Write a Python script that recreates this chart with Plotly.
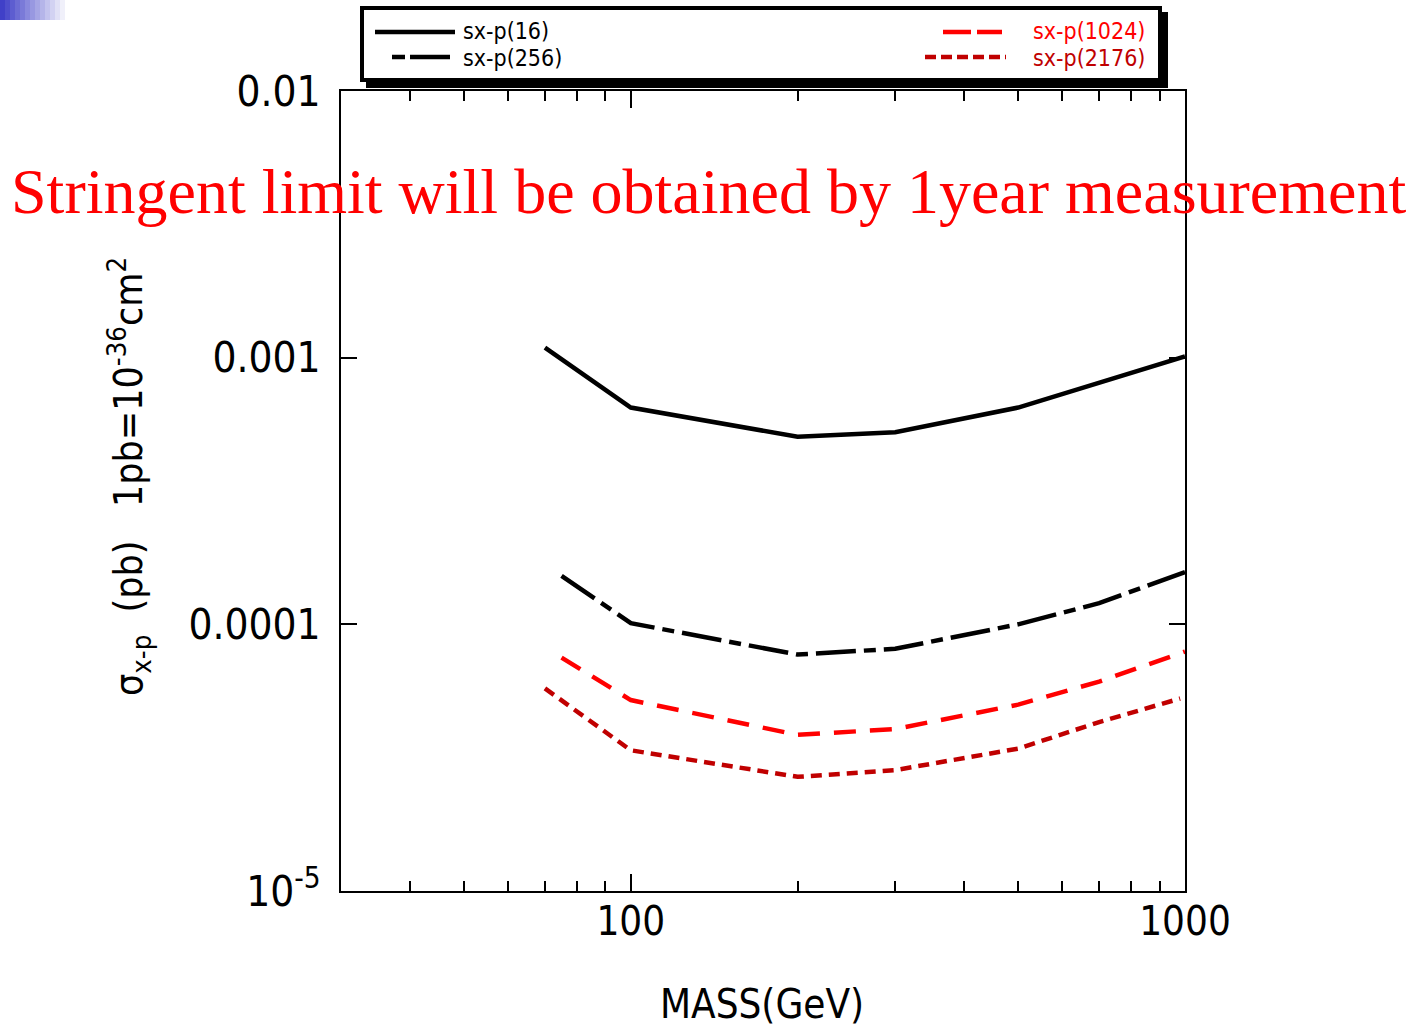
import math
import plotly.graph_objects as go

# ---------------- data ----------------
mass_16 = [70, 100, 200, 300, 500, 1000]
sig_16 = [1.09e-3, 6.5e-4, 5.05e-4, 5.25e-4, 6.5e-4, 1.01e-3]

mass_256 = [75, 100, 200, 300, 500, 700, 1000]
sig_256 = [1.52e-4, 1.01e-4, 7.7e-5, 8.1e-5, 1.0e-4, 1.2e-4, 1.57e-4]

mass_1024 = [75, 100, 200, 300, 500, 700, 1000]
sig_1024 = [7.5e-5, 5.2e-5, 3.85e-5, 4.05e-5, 5.0e-5, 6.1e-5, 7.9e-5]

mass_2176 = [70, 100, 200, 300, 500, 700, 980]
sig_2176 = [5.75e-5, 3.37e-5, 2.68e-5, 2.84e-5, 3.42e-5, 4.3e-5, 5.27e-5]

series_names = ["sx-p(16)", "sx-p(256)", "sx-p(1024)", "sx-p(2176)"]

x_major = [100, 1000]
x_major_text = ["100", "1000"]
x_minor = [30, 40, 50, 60, 70, 80, 90, 200, 300, 400, 500, 600, 700, 800, 900]
y_ticks = [1e-5, 1e-4, 1e-3, 1e-2]
y_tick_text = ["10<sup>-5</sup>", "0.0001", "0.001", "0.01"]

title_text = "Stringent limit will be obtained by 1year measurement"
x_title = "MASS(GeV)"
y_title = "σ<sub>x-p</sub>  (pb)   1pb=10<sup>-36</sup>cm<sup>2</sup>"

# ---------------- layout geometry ----------------
W, H = 1414, 1031
L, R, T, B = 341, 1185, 91, 891
PW, PH = R - L, B - T


def px(x):
    return (x - L) / PW


def py(y):
    return (B - y) / PH


NARROW = "DejaVu Sans Condensed, Liberation Sans Narrow, Arial Narrow, Liberation Sans, sans-serif"
BLACK = "#000000"
RED = "#ff0000"
DRED = "#c00000"

fig = go.Figure()
styles = [
    (mass_16, sig_16, BLACK, "solid"),
    (mass_256, sig_256, BLACK, "40px,8px,12px,8px"),
    (mass_1024, sig_1024, RED, "22px,14px"),
    (mass_2176, sig_2176, DRED, "11px,7px"),
]
for (xs, ys, c, d), name in zip(styles, series_names):
    fig.add_trace(go.Scatter(x=xs, y=ys, mode="lines", name=name,
                             line=dict(color=c, width=4.5, dash=d),
                             showlegend=False))

shapes = []
# top-left gradient decoration
n = 14
for i in range(n):
    t = i / (n - 1)
    r = int(64 + (255 - 64) * t)
    g = int(64 + (255 - 64) * t)
    b = int(200 + (255 - 200) * t)
    x0 = i * 5
    shapes.append(dict(type="rect", xref="paper", yref="paper",
                       x0=px(x0), x1=px(x0 + 5.5), y0=py(0), y1=py(20),
                       line=dict(width=0), fillcolor=f"rgb({r},{g},{b})", layer="above"))

# legend box with shadow
shapes.append(dict(type="rect", xref="paper", yref="paper",
                   x0=px(366), x1=px(1168), y0=py(12), y1=py(88),
                   line=dict(width=0), fillcolor=BLACK, layer="above"))
shapes.append(dict(type="rect", xref="paper", yref="paper",
                   x0=px(362), x1=px(1160), y0=py(8), y1=py(80),
                   line=dict(width=4, color=BLACK), fillcolor="white", layer="above"))

# legend samples
legend_samples = [
    (375, 455, 32, BLACK, "solid"),
    (392, 452, 57, BLACK, "13px,5px,40px,6px"),
    (943, 1002, 32, RED, "28px,6px"),
    (925, 1006, 57, DRED, "11px,5px"),
]
for x0, x1, yy, c, d in legend_samples:
    shapes.append(dict(type="line", xref="paper", yref="paper",
                       x0=px(x0), x1=px(x1), y0=py(yy), y1=py(yy),
                       line=dict(color=c, width=4.5, dash=d), layer="above"))

annotations = []
legend_texts = [
    (462, 31, "left", series_names[0], BLACK),
    (462, 58, "left", series_names[1], BLACK),
    (1146, 31, "right", series_names[2], RED),
    (1146, 58, "right", series_names[3], DRED),
]
for xx, yy, anc, txt, c in legend_texts:
    annotations.append(dict(x=px(xx), y=py(yy), xref="paper", yref="paper",
                            text=txt, showarrow=False, xanchor=anc, yanchor="middle",
                            borderpad=0,
                            font=dict(family=NARROW, size=23, color=c)))

# red overlay title
annotations.append(dict(x=px(708), y=py(192), xref="paper", yref="paper",
                        text=title_text, showarrow=False, xanchor="center", yanchor="middle",
                        font=dict(family="Liberation Serif, Times New Roman, serif", size=64, color=RED)))
# x title
annotations.append(dict(x=px(762), y=py(1004), xref="paper", yref="paper",
                        text=x_title, showarrow=False, xanchor="center", yanchor="middle",
                        borderpad=0,
                        font=dict(family=NARROW, size=40, color=BLACK)))
# y title
annotations.append(dict(x=px(129), y=py(477), xref="paper", yref="paper",
                        text=y_title, showarrow=False, xanchor="center", yanchor="middle",
                        textangle=-90,
                        font=dict(family=NARROW, size=39, color=BLACK)))

fig.update_layout(
    width=W, height=H,
    margin=dict(l=L, r=W - R, t=T, b=H - B, pad=0),
    paper_bgcolor="white", plot_bgcolor="white",
    shapes=shapes, annotations=annotations,
    showlegend=False,
)
fig.update_xaxes(type="log", range=[math.log10(30), 3],
                 showline=True, linecolor=BLACK, linewidth=2, mirror="ticks",
                 showgrid=False, zeroline=False,
                 tickmode="array", tickvals=x_major, ticktext=x_major_text,
                 ticks="inside", ticklen=17, tickwidth=2, tickcolor=BLACK,
                 minor=dict(tickmode="array", tickvals=x_minor, ticks="inside",
                            ticklen=10, tickwidth=2, tickcolor=BLACK, showgrid=False),
                 ticklabelstandoff=-6,
                 tickfont=dict(family=NARROW, size=40, color=BLACK))
fig.update_yaxes(type="log", range=[-5, -2],
                 showline=True, linecolor=BLACK, linewidth=2, mirror="ticks",
                 showgrid=False, zeroline=False,
                 tickmode="array", tickvals=y_ticks, ticktext=y_tick_text,
                 ticks="inside", ticklen=16, tickwidth=2, tickcolor=BLACK,
                 ticklabelstandoff=10,
                 tickfont=dict(family=NARROW, size=42, color=BLACK))

fig.write_html("out.html")
